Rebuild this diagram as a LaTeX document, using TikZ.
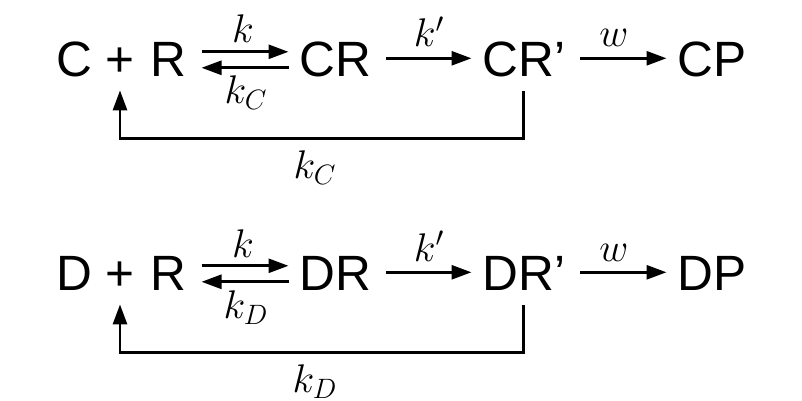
\RequirePackage{fix-cm}
\documentclass[tikz,border=0pt]{standalone}
\usepackage{fontspec}
\setmainfont{Liberation Sans}
\usetikzlibrary{arrows.meta}
\begin{document}
\begin{tikzpicture}[x=0.5pt,y=-0.5pt,
  sp/.style={inner sep=0pt,font=\fontsize{24.8}{29}\selectfont,text height=17.7pt,text depth=0pt},
  lab/.style={inner sep=0pt,font=\fontsize{20}{24}\selectfont,anchor=base},
  arr/.style={line width=1.4pt,-{Triangle[length=10pt,width=7pt]}},
  gap/.style={shorten <=7.25pt,shorten >=5.25pt},
  gaprev/.style={shorten <=5.25pt,shorten >=7.25pt},
  fb/.style={shorten <=7.5pt,shorten >=7pt}]
\useasboundingbox (0,0) rectangle (802,401);
\foreach \L/\dy in {C/0,D/214}{
  \node[sp,anchor=base west] (a\L) at (56,76+\dy) {\L};
  \node[sp,anchor=base] (p\L) at (120,76+\dy) {+};
  \node[sp,anchor=base east] (r\L) at (187,76+\dy) {R};
  \node[sp,anchor=base west] (b\L) at (299,76+\dy) {\L R};
  \node[sp,anchor=base west] (c\L) at (482,76+\dy) {\L R’};
  \node[sp,anchor=base west] (d\L) at (677,76+\dy) {\L P};
  \draw[arr,gap] ([yshift=3.25pt]r\L.east) -- ([yshift=3.25pt]b\L.west);
  \draw[arr,gaprev] ([yshift=-4.75pt]b\L.west) -- ([yshift=-4.75pt]r\L.east);
  \draw[arr,gap] (b\L.east) -- (c\L.west);
  \draw[arr,gap] (c\L.east) -- (d\L.west);
  \draw[arr,fb] (c\L.south) -- ++(0,62) -| (p\L.south);
  \node[lab] (k1\L) at (243,43+\dy) {$k$};
  \node[lab] (k2\L) at (246,104+\dy) {$k_\L$};
  \node[lab] (k3\L) at (429,47+\dy) {$k'$};
  \node[lab] (k4\L) at (614,47+\dy) {$w$};
  \node[lab] (k5\L) at (315,178+\dy) {$k_\L$};
}
\end{tikzpicture}
\end{document}
